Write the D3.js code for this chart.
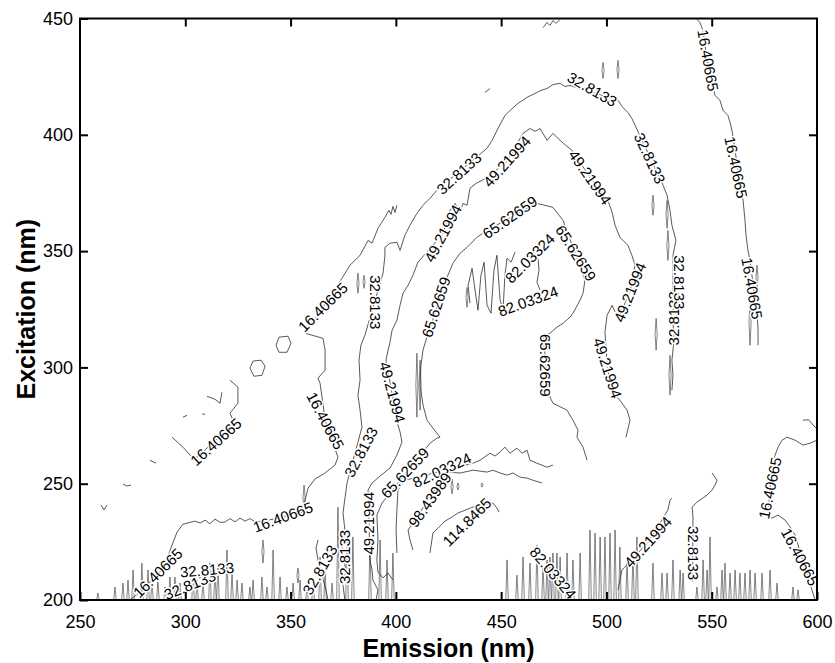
<!DOCTYPE html>
<html>
<head>
<meta charset="utf-8">
<script src="https://cdn.jsdelivr.net/npm/d3@7"></script>
<style>
  body { margin: 0; background: #fff; }
  text { font-family: "Liberation Sans", Arial, Helvetica, sans-serif; }
</style>
</head>
<body>
<svg id="chart" width="835" height="663"></svg>
<script>
// axis ticks
const xTicks = [250, 300, 350, 400, 450, 500, 550, 600];
const yTicks = [200, 250, 300, 350, 400, 450];

// contour lines, [emission, excitation]
const c16Low = [[273.7,200],[278.5,203.4],[283.2,207.7],[288,212],[291.8,218.9],[293.7,223.6],[296.1,229.2],[298.9,232.6],[304.6,233.9],[307,233.1],[309.4,234.3],[311.7,232.8],[314.1,234.8],[316.5,233.4],[318.9,233.5],[321.2,235],[323.6,233.6],[326,235.2],[328.4,233.9],[330.7,235],[333.1,233.6],[336.9,233.9],[346.4,235.6],[355.9,237.8],[356.9,243],[358.3,248.1],[361.6,252],[366.4,254.6],[371.1,258],[372.5,261.4],[366.5,277],[364,293.2],[363,295.4],[366.4,298.8],[366.4,307.4],[365.4,312.5],[356.9,314.7],[365.4,325.9],[374.4,338.3],[378.2,343.9],[383,348.2],[386.8,354.6],[388.7,353.4],[391.5,359.8],[394.8,364.5],[396.7,367.5],[397.7,365.8],[398.6,369.2],[399.6,366.6],[400.5,369.7]];
const c16Left = [[293.7,270],[298.9,265.7],[303.2,261.4],[305.6,261.4],[322.2,275.2],[322.7,277.3],[321.2,280.3],[325,284.6],[325,291.5],[321.2,294.5]];
const c16Right = [[543,449.6],[544.4,448.3],[545.9,444.8],[546.8,438.4],[549.2,425.5],[551.6,416.9],[553.9,414.8],[555.4,410.5],[557.7,408.3],[558.7,405.3],[559.6,401.9],[561.1,393.3],[563.4,378.3],[564.9,371.8],[565.8,363.2],[566.3,356.8],[567.2,350.3],[568.2,346],[570.6,328.9],[571.5,324.6],[572,316],[572,309.5]];
const c16BottomRight = [[600,268.7],[596.7,267.4],[593.3,266.6],[589.6,268.7],[585.8,270],[583.4,268.7],[581.5,265.7],[580.1,262.3],[578.6,258],[576.8,236.5],[578.6,235.2],[581.5,236.5],[584.8,234.4],[587.2,231.4],[589.6,227.9],[595.7,209.5],[597.6,204.3],[599.1,200]];
const c16Edge = [[593.3,277.3],[596,277.5],[599.1,274.3],[600,273.9]];
const hexA = [[330.7,299.7],[332.2,302.7],[336,303.1],[337.9,300.5],[336.4,296.6],[332.6,296.2],[330.7,299.7]];
const hexB = [[343.1,309.5],[344.5,313],[348.8,313.4],[350.2,310.4],[348.3,306.5],[344.5,306.5],[343.1,309.5]];
const vMark = [[310.3,287.6],[314.1,286.3],[316.5,284.6],[317.4,289.3]];
const dashA = [[298.9,278.6],[300.8,279.4]];
const dashB = [[308,279.9],[309.4,279.9]];
const dashC = [[283.2,260.1],[286.1,258.8]];
const dashD = [[270.4,249.8],[272.3,249],[274.2,249.4]];
const dashE = [[260,240.8],[261.4,238.7],[262.8,240.8]];
const dashF = [[442.3,418.2],[444.7,419.9]];
const topFrag = [[469.9,446.1],[471.8,448.3],[473.2,447],[474.6,449.1],[476.1,447.9],[478,449.6]];

const c32Main = [[375.8,200],[374.9,206.4],[376.3,212.9],[374.4,221.5],[375.8,230.1],[374.9,237.4],[376.8,250.3],[383.9,274.3],[383,281.6],[382,288.1],[383,294.5],[382.5,303.1],[383.4,309.5],[385.3,313.8],[393.9,340.5],[394.8,347.8],[394.8,351.6],[397.2,353.4],[400.5,353.8],[402,350.3],[404.3,356.8],[406.7,361.1],[410,366.2],[412.9,369.7],[416.2,372.7],[419.5,376.1],[443.3,394.2],[445.7,397.6],[448.5,402.7],[451.8,408.3],[455.2,411.3],[458,413.5],[462.3,416.1],[466.1,417.8],[468.9,419.1],[471.8,419.9],[474.6,421.6],[478,422.1],[480.3,420.8],[482.7,421.2],[505.5,414.8],[507.4,412.2],[510.2,409.6],[512.1,407],[526.9,378.3],[528.8,374],[530.2,367.5],[531.1,361.1],[533,354.6],[531.6,348.2],[531.6,320.3],[532.1,311.7],[531.1,303.1],[531.6,296.6],[531.1,290.2]];
const c32Low = [[367.8,200],[366.8,204.3],[364.9,210.7],[363,217.2],[362.1,222.3],[363,225.8]];
const c32BottomRight = [[550.2,254.6],[551.6,252.8],[552.5,251.5],[551.6,249.4],[550.2,247.3],[547.8,245.1],[543,242.1],[540.7,239.9],[541.1,235.7],[540.9,208]];

const c49Main = [[390.6,200],[391.5,204.3],[389.1,208.6],[388.7,212.9],[387.7,217.2],[386.8,247.3],[388.7,250.3],[392.5,253.3],[397.2,256.7],[400.5,262.3],[402.9,267.9],[402,272.2],[401,275.2],[395.3,303.1],[396.3,307.4],[397.2,310.8],[398.2,316],[400.5,320.3],[402,326.7],[403.4,331.9],[405.8,335.3],[408.1,339.6],[410.5,345.2],[422.4,357.6],[425.7,367.5],[428.1,370.5],[430.5,366.7],[431.9,370.5],[433.8,369.7],[435.2,377],[438.1,379.1],[440.9,380.4],[443.3,381.7],[452.8,388.5],[460.4,400.6],[463.7,402.7],[466.1,401.5],[468.5,402.7],[471.8,397.6],[474.6,400.6],[478,397.6],[480.8,395.4],[483.7,393.3],[492.2,381.7],[500.7,371.8],[502.7,366.7],[504.1,361.1],[506.4,355.9],[510.2,352.5],[512.1,348.2],[513.6,343.9],[511.2,332.3],[505.5,321.1],[502.7,326.7],[500.3,322.4],[499.3,315.1],[500.5,299.7],[502.7,289.3],[506.4,285.9],[509.8,281.6],[511.2,277.3],[509.3,270]];
const c49BottomRight = [[505.5,204.3],[507.4,212.9],[519.8,224.9],[529.2,238.7],[530.2,243],[531.1,243.8]];

const c65Main = [[398.6,208.6],[396.3,211.6],[393.9,209.5],[391.5,212],[391,217.2],[391.5,225.8],[391,236.5],[393.4,241.7],[416.2,267.4],[419.5,269.6],[421,270],[417.6,273.9],[414.8,277.3],[412.9,283.8],[411.5,292.4],[411.9,300.9],[412.9,307.4],[414.3,311.7],[424.3,338.7],[427.1,344.8],[430.5,349.1],[433.8,351.6],[438.5,355.9],[443.3,358.9],[465.1,369.7],[467,370.5],[470.8,369.7],[474.6,368.8],[479.4,363.2],[489.8,337.5],[488.9,331.9],[487.5,328.9],[484.1,323.3],[482.7,321.6],[479.4,319],[476.5,317.3],[473.2,314.7],[469.9,313],[473.2,287.2],[474.6,284.6],[481.3,281.6],[484.1,277.3],[486.5,273],[486,270],[488.9,265.7],[490.8,260.1]];

const c82Wave = [[435.2,327.6],[434.3,335.3],[436.2,342.6],[437.6,333.2],[439,324.6],[440.4,339.6],[441.9,345.2],[443.3,326.7],[445.2,323.3],[446.6,341.8],[448,348.2],[449.5,328.9],[450.9,324.6],[451.8,339.6],[452.8,346.9],[454.7,345.2],[456.6,349.5]];
const c82Right = [[467.5,346.9],[468,341.8],[467,336.6],[468.5,333.2]];
const c82Low = [[400.5,220.2],[400.1,230.1],[400.5,238.7],[401,247.3],[404.3,251.5],[436.6,258.8],[440,260.1],[444.7,263.1],[447.1,261.9],[449.5,263.6],[451.8,265.7],[454.2,263.1],[457.5,265.3],[459.9,263.1],[462.3,264.4],[463.7,260.1],[467,258.8],[471.8,257.1],[474.6,258]];
const c98 = [[408.1,221.5],[406.7,225.8],[405.8,230.1],[424.3,255],[430.5,254.6],[436.6,255.8],[443.3,255],[446.1,255.8],[449.5,254.6],[452.8,253.7],[455.6,254.6],[459,252.8],[462.3,252.4],[465.1,251.5],[469.4,250.3]];
const c115 = [[416.2,220.2],[417.6,228.8],[420,230.9],[423.3,233.9],[426.7,235.7],[429.5,237.4],[439,240.8],[446.1,241.7],[448,239.5],[449,237.8]];

const contourLines = [c16Low, c16Left, c16Right, c16BottomRight, c16Edge, hexA, hexB, vMark,
  dashA, dashB, dashC, dashD, dashE, dashF, topFrag,
  c32Main, c32Low, c32BottomRight, c49Main, c49BottomRight, c65Main,
  c82Wave, c82Right, c82Low, c98, c115];

// noise spikes rising from the bottom edge: [emission, peak excitation]
const spikes = [[258.5,203],[266.6,205.6],[270.4,207.3],[272.8,208.6],[275.2,212.9],[279.4,215.9],[282.3,212.9],[284.2,208.6],[287,208.6],[290.4,205.6],[292.7,209.9],[295.1,209.9],[297.5,207.3],[303.7,212.9],[305.6,208.6],[308.4,208.6],[311.7,215.9],[314.1,212.9],[315.5,215.9],[319.8,221.5],[322.2,211.6],[324.6,208.6],[326.9,207.3],[330.7,205.6],[332.2,208.6],[336.4,209.9],[338.8,205.6],[341.7,221.5],[345,209.9],[348.3,205.6],[351.2,207.3],[354.5,208.6],[357.8,205.6],[360.7,208.6],[364,218.5],[366.4,212.9],[369.7,207.3],[372.5,239.9],[376.8,227.1],[379.6,227.1],[387.7,224.5],[392.5,225.8],[395.8,217.2],[398.6,220.2],
  [452.8,217.2],[457.5,210.7],[460.4,218.5],[463.7,215.9],[467,223.6],[469.9,215],[471.8,217.2],[473.2,218.5],[474.6,220.2],[476.5,220.2],[478,218.5],[481.3,220.2],[484.1,217.2],[487.5,220.2],[492.2,230.1],[494.6,228.8],[497,227.1],[499.3,227.1],[501.7,228.8],[504.1,230.1],[506.4,222.8],[509.8,217.2],[512.6,220.2],[514.5,227.1],[522.1,215.9],[526.4,211.6],[528.8,211.6],[531.6,217.2],[535,212.9],[536.4,211.6],[543,205.6],[545.9,217.2],[547.8,212.9],[549.2,227.1],[552.5,205.6],[554.9,212.9],[556.3,215.9],[558.7,211.6],[561.1,212.9],[563.4,211.6],[565.8,211.6],[568.2,212.9],[570.6,211.6],[573.9,211.6],[577.7,212.9],[581,207.3],[588.6,205.6],[591,204.3]];

// thin closed slivers: [emission, low excitation, high excitation]
const slivers = [[498.4,424.2,431.1],[505.5,424.2,432],[522.1,365.4,374],[528.8,359.8,371.8],[523.6,307.4,321.1],[529.2,346,358.9],[530.2,288.1,305.2],[568.2,309.5,328.9],[571.5,333.2,343.9],[410,278.6,306.1],[411.5,281.6,303.1],[433.8,325.9,334.4],[336.9,215.9,225.8],[353.5,207.3,213.8],[356.4,238.7,249.4],[382,331.9,340.5],[384.9,334,339.6],[426.7,245.6,252],[429.5,247.3,250.3],[440.9,248.5,250.3]];

// contour labels: [emission, excitation, text, angle]
const labels = [
  [287,211.6,"16.40665",-45],[346.4,235.6,"16.40665",-20],[366.5,277,"16.40665",62],[365.4,325.9,"16.40665",-45],
  [314.6,268,"16.40665",-42],[548.2,432,"16.40665",80],[561.5,386,"16.40665",78],[569.1,334,"16.40665",80],
  [577.7,248.1,"16.40665",-78],[591.9,218.5,"16.40665",62],
  [302.2,206.4,"32.8133",-22],[310.3,212.9,"32.8133",-5],[364,212.9,"32.8133",-60],[375.8,218.5,"32.8133",-90],
  [383.5,263.6,"32.8133",-62],[390,328,"32.8133",90],[430,383.4,"32.8133",-42],[493.2,419.5,"32.8133",30],
  [520.5,389.9,"32.8133",65],[532.1,321.1,"32.8133",-90],[534.5,336.6,"32.8133",90],[541.1,220.2,"32.8133",90],
  [387,233,"49.21994",-90],[398.3,289.3,"49.21994",75],[422.4,357.6,"49.21994",-62],[452.8,388.5,"49.21994",-48],
  [492.2,381.7,"49.21994",55],[511.2,332.3,"49.21994",-68],[500.5,299.7,"49.21994",72],[519.8,224.9,"49.21994",-48],
  [404.3,254.6,"65.62659",-47],[419.1,325.9,"65.62659",-72],[454.2,364.5,"65.62659",-35],[485.5,349.1,"65.62659",58],[471,300.9,"65.62659",90],
  [463.7,346.9,"82.03324",-45],[462.8,328.4,"82.03324",-20],[421.9,255.8,"82.03324",-25],[474.6,211.6,"82.03324",50],
  [416.2,243,"98.43989",-55],[433.8,233.5,"114.8465",-45]
];

const width = 835, height = 663;
const margin = { left: 80, top: 18.5, right: 18, bottom: 63 };

const svg = d3.select("#chart");

const x = d3.scaleLinear().domain([250, 600]).range([margin.left, width - margin.right]);
const y = d3.scaleLinear().domain([200, 450]).range([height - margin.bottom, margin.top]);

svg.append("defs").append("clipPath").attr("id", "plotclip")
  .append("rect")
  .attr("x", x(250)).attr("y", y(450))
  .attr("width", x(600) - x(250)).attr("height", y(200) - y(450));

const plot = svg.append("g").attr("clip-path", "url(#plotclip)");

const line = d3.line().x(d => x(d[0])).y(d => y(d[1]));

plot.selectAll("path.contour")
  .data(contourLines)
  .join("path")
  .attr("class", "contour")
  .attr("d", line)
  .attr("fill", "none")
  .attr("stroke", "#222")
  .attr("stroke-width", 0.75);

plot.selectAll("path.spike")
  .data(spikes)
  .join("path")
  .attr("class", "spike")
  .attr("d", d => line([[d[0] - 0.6, 200], [d[0], d[1]], [d[0] + 0.6, 200]]))
  .attr("fill", "none")
  .attr("stroke", "#333")
  .attr("stroke-width", 0.6);

plot.selectAll("path.sliver")
  .data(slivers)
  .join("path")
  .attr("class", "sliver")
  .attr("d", d => line([[d[0], d[1]], [d[0] + 0.5, (d[1] + d[2]) / 2], [d[0], d[2]], [d[0] - 0.5, (d[1] + d[2]) / 2], [d[0], d[1]]]))
  .attr("fill", "none")
  .attr("stroke", "#333")
  .attr("stroke-width", 0.6);

plot.selectAll("text.clabel")
  .data(labels)
  .join("text")
  .attr("class", "clabel")
  .attr("transform", d => `translate(${x(d[0])},${y(d[1])}) rotate(${d[3]})`)
  .attr("text-anchor", "middle")
  .attr("dy", "0.35em")
  .style("font-size", "15px")
  .attr("fill", "#000")
  .attr("stroke", "#fff")
  .attr("stroke-width", 3)
  .attr("paint-order", "stroke")
  .text(d => d[2]);

// axes, ticks pointing inward
const axisStyle = g => {
  g.select(".domain").remove();
  g.selectAll(".tick line").attr("stroke", "#000").attr("stroke-width", 2);
  g.selectAll(".tick text").style("font-size", "18px").attr("fill", "#000");
};

svg.append("g")
  .attr("transform", `translate(0,${y(200)})`)
  .call(d3.axisBottom(x).tickValues(xTicks).tickSizeInner(-8).tickSizeOuter(0).tickPadding(15))
  .call(axisStyle);

svg.append("g")
  .attr("transform", `translate(0,${y(450)})`)
  .call(d3.axisTop(x).tickValues(xTicks.slice(1, -1)).tickSizeInner(-8).tickSizeOuter(0).tickFormat(""))
  .call(axisStyle);

svg.append("g")
  .attr("transform", `translate(${x(250)},0)`)
  .call(d3.axisLeft(y).tickValues(yTicks).tickSizeInner(-8).tickSizeOuter(0).tickPadding(7))
  .call(axisStyle);

svg.append("g")
  .attr("transform", `translate(${x(600)},0)`)
  .call(d3.axisRight(y).tickValues(yTicks.slice(1, -1)).tickSizeInner(-8).tickSizeOuter(0).tickFormat(""))
  .call(axisStyle);

svg.append("rect")
  .attr("x", x(250)).attr("y", y(450))
  .attr("width", x(600) - x(250)).attr("height", y(200) - y(450))
  .attr("fill", "none")
  .attr("stroke", "#000")
  .attr("stroke-width", 2);

svg.append("text")
  .attr("x", (x(250) + x(600)) / 2)
  .attr("y", 657)
  .attr("text-anchor", "middle")
  .style("font-size", "25px")
  .style("font-weight", "bold")
  .text("Emission (nm)");

svg.append("text")
  .attr("transform", `translate(35,${(y(200) + y(450)) / 2}) rotate(-90)`)
  .attr("text-anchor", "middle")
  .style("font-size", "25px")
  .style("font-weight", "bold")
  .text("Excitation (nm)");
</script>
</body>
</html>
